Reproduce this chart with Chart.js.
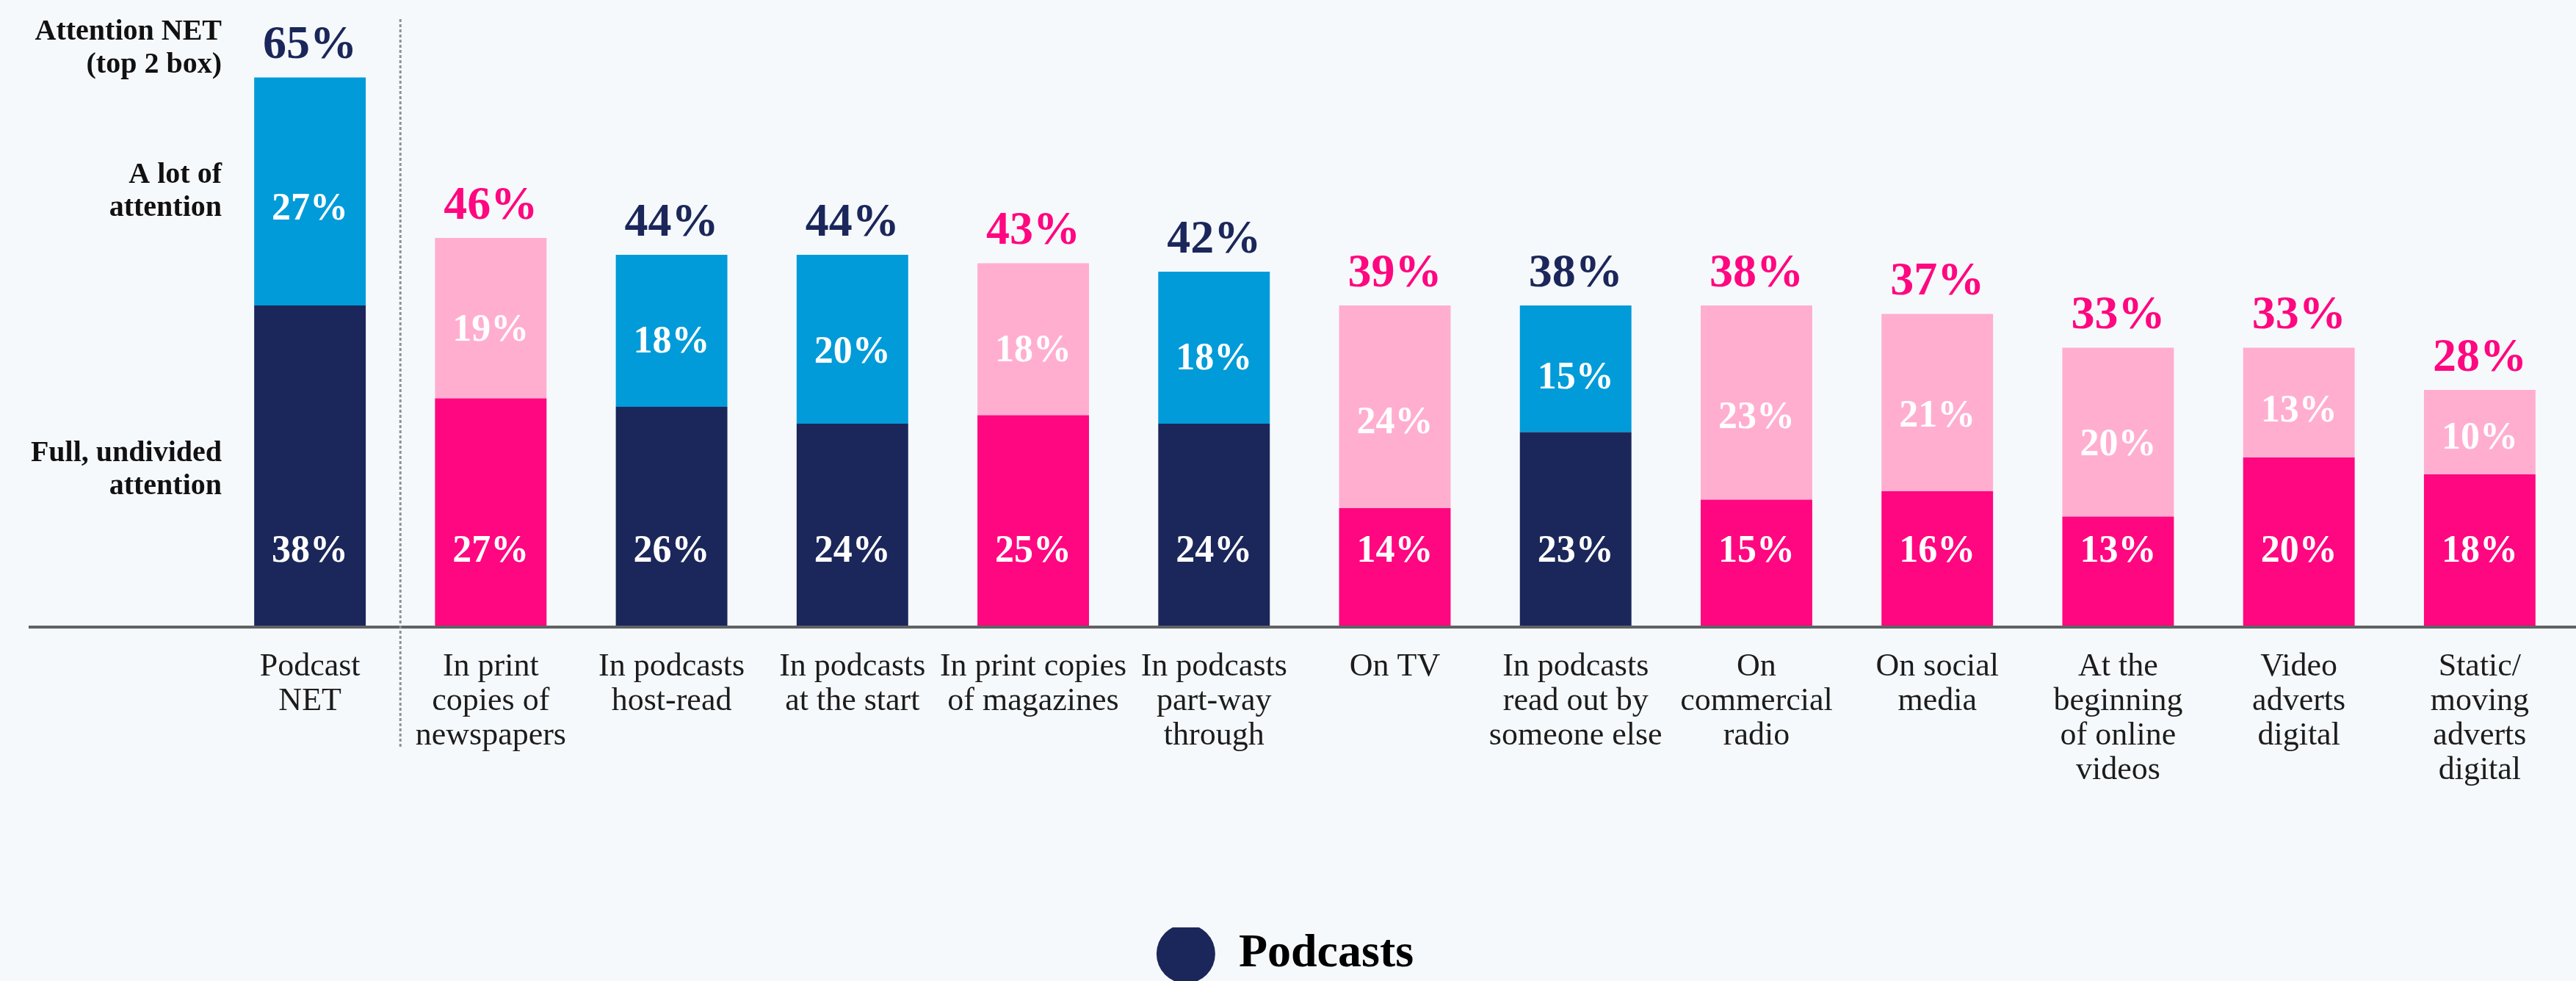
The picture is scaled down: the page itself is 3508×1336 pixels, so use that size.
<!DOCTYPE html>
<html>
<head>
<meta charset="utf-8">
<script src="https://cdn.jsdelivr.net/npm/chart.js@4.4.0/dist/chart.umd.min.js"></script>
<style>
  html, body { margin: 0; padding: 0; background: #f6f9fc; }
  #wrap { width: 3508px; height: 1336px; }
</style>
</head>
<body>
<div id="wrap"><canvas id="c" width="3508" height="1336"></canvas></div>
<script>
// ---- Data ----
const categories = [
  ["Podcast", "NET"],
  ["In print", "copies of", "newspapers"],
  ["In podcasts", "host-read"],
  ["In podcasts", "at the start"],
  ["In print copies", "of magazines"],
  ["In podcasts", "part-way", "through"],
  ["On TV"],
  ["In podcasts", "read out by", "someone else"],
  ["On", "commercial", "radio"],
  ["On social", "media"],
  ["At the", "beginning", "of online", "videos"],
  ["Video", "adverts", "digital"],
  ["Static/", "moving", "adverts", "digital"]
];
const groups = ["podcast","other","podcast","podcast","other","podcast","other","podcast","other","other","other","other","other"];
const fullAttention = [38, 27, 26, 24, 25, 24, 14, 23, 15, 16, 13, 20, 18];
const lotOfAttention = [27, 19, 18, 20, 18, 18, 24, 15, 23, 21, 20, 13, 10];
const attentionNet = [65, 46, 44, 44, 43, 42, 39, 38, 38, 37, 33, 33, 28];
const rowLabels = [["Attention NET", "(top 2 box)"], ["A lot of", "attention"], ["Full, undivided", "attention"]];
const legendLabel = "Podcasts";

// ---- Styles ----
const NAVY = "#1b275a", BLUE = "#009bd8", PINK = "#ff0780", LIGHTPINK = "#ffaed0";
const fullColors = groups.map(g => g === "podcast" ? NAVY : PINK);
const lotColors = groups.map(g => g === "podcast" ? BLUE : LIGHTPINK);
const totalColors = groups.map(g => g === "podcast" ? NAVY : PINK);
const SERIF = '"Liberation Serif", "Times New Roman", serif';

const overlay = {
  id: "overlay",
  afterDatasetsDraw(chart) {
    const ctx = chart.ctx;
    const m0 = chart.getDatasetMeta(0), m1 = chart.getDatasetMeta(1);
    const ys = chart.scales.y;
    const base = ys.getPixelForValue(0);
    ctx.save();
    // baseline
    ctx.strokeStyle = "#606366";
    ctx.lineWidth = 4;
    ctx.beginPath();
    ctx.moveTo(39, base + 1);
    ctx.lineTo(chart.width, base + 1);
    ctx.stroke();
    // dotted separator after first category
    const sepX = (m0.data[0].x + m0.data[1].x) / 2;
    ctx.setLineDash([4, 3]);
    ctx.strokeStyle = "#8e9195";
    ctx.lineWidth = 3;
    ctx.beginPath();
    ctx.moveTo(sepX, 26);
    ctx.lineTo(sepX, 1017);
    ctx.stroke();
    ctx.setLineDash([]);
    // value labels
    ctx.textAlign = "center";
    ctx.textBaseline = "middle";
    categories.forEach((c, i) => {
      const b0 = m0.data[i], b1 = m1.data[i];
      ctx.fillStyle = "#ffffff";
      ctx.font = "bold 52px " + SERIF;
      ctx.fillText(fullAttention[i] + "%", b0.x, base - 101);
      ctx.fillText(lotOfAttention[i] + "%", b1.x, b1.y + 0.58 * (b1.base - b1.y));
      ctx.fillStyle = totalColors[i];
      ctx.font = "bold 64px " + SERIF;
      ctx.fillText(attentionNet[i] + "%", b1.x, b1.y - 43);
    });
    // row labels at left, aligned with first bar
    const b0 = m0.data[0], b1 = m1.data[0];
    const centers = [b1.y - 39, (b1.y + b1.base) / 2, (b0.y + b0.base) / 2 + 6];
    ctx.textAlign = "right";
    ctx.fillStyle = "#111111";
    ctx.font = "bold 40px " + SERIF;
    const rx = chart.chartArea.left + 3;
    rowLabels.forEach((lines, k) => {
      const lh = 45;
      const start = centers[k] - (lines.length - 1) * lh / 2;
      lines.forEach((t, j) => ctx.fillText(t, rx, start + j * lh));
    });
    ctx.restore();
  }
};

new Chart(document.getElementById("c"), {
  type: "bar",
  data: {
    labels: categories,
    datasets: [
      { label: "Full, undivided attention", data: fullAttention, backgroundColor: fullColors, borderWidth: 0 },
      { label: "A lot of attention", data: lotOfAttention, backgroundColor: lotColors, borderWidth: 0 }
    ]
  },
  options: {
    responsive: false,
    animation: false,
    devicePixelRatio: 1,
    layout: { padding: { top: 48, right: 8, bottom: -5, left: 0 } },
    datasets: { bar: { categoryPercentage: 1.0, barPercentage: 0.617 } },
    scales: {
      x: {
        stacked: true,
        grid: { display: false, drawTicks: false },
        border: { display: false },
        ticks: {
          autoSkip: false, maxRotation: 0, minRotation: 0, padding: 32,
          color: "#1c1c1c",
          font: { family: SERIF, size: 44, lineHeight: 47 / 44 }
        },
        afterFit(s) { s.height = 410; }
      },
      y: {
        stacked: true,
        min: 0, max: 70,
        grid: { display: false, drawTicks: false },
        border: { display: false },
        ticks: { display: false },
        afterFit(s) { s.width = 299; }
      }
    },
    plugins: {
      tooltip: { enabled: false },
      legend: {
        position: "bottom",
        labels: {
          usePointStyle: true,
          pointStyleWidth: 80,
          boxHeight: 57,
          padding: 4,
          color: "#111111",
          font: { family: SERIF, weight: "bold", size: 64 },
          generateLabels: () => [{
            text: legendLabel, fillStyle: NAVY, strokeStyle: NAVY, lineWidth: 0,
            pointStyle: "circle", hidden: false, datasetIndex: 0
          }]
        }
      }
    }
  },
  plugins: [overlay]
});
</script>
</body>
</html>
